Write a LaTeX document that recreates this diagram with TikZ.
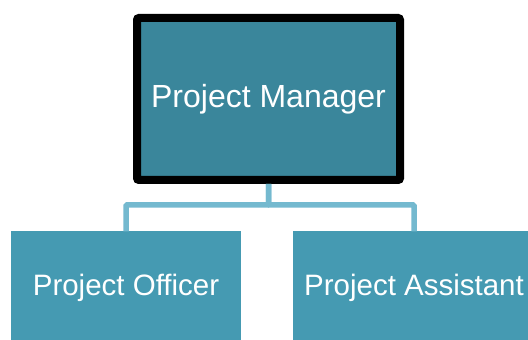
\documentclass[tikz,border=0pt]{standalone}
\usepackage{fontspec}
\setmainfont{Liberation Sans}
\usepackage{xcolor}
\usetikzlibrary{positioning}

\definecolor{headfill}{RGB}{58,134,155}
\definecolor{stafffill}{RGB}{69,154,178}
\definecolor{linkcol}{RGB}{116,185,207}

\tikzset{
  head/.style={draw=black, line width=8pt, rounded corners=2pt, fill=headfill,
    text=white, font=\fontsize{32}{37}\selectfont,
    minimum width=263pt, minimum height=162pt},
  staff/.style={fill=stafffill, text=white, font=\fontsize{29.5}{34}\selectfont,
    minimum height=113pt},
  link/.style={draw=linkcol, line width=5.5pt, rounded corners=1pt}
}

\begin{document}
\begin{tikzpicture}[x=1pt,y=1pt]
            \clip (0,0) rectangle (528,340);
            \node[head] (pm) at (268.5,241) {Project Manager};
            \node[staff, minimum width=230pt] (po) at (126,52) {Project Officer};
            \node[staff, minimum width=242pt] (pa) at (414,52) {Project Assistant};
            \draw[link] (pm.south) -- ++(0,-21) -| (po.north);
            \draw[link] (pm.south) -- ++(0,-21) -| (pa.north);
        \end{tikzpicture}
\end{document}
